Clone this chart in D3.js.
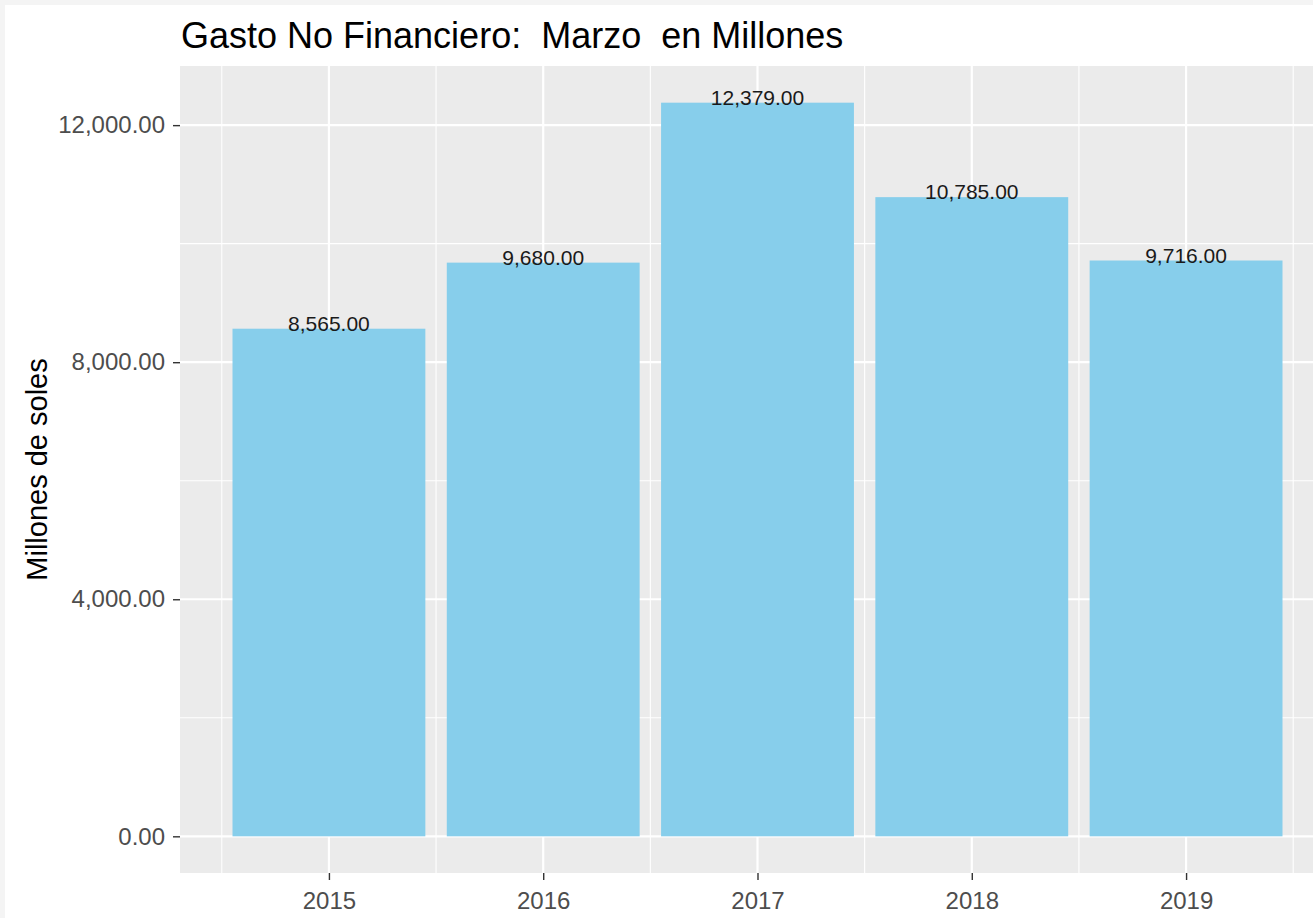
<!DOCTYPE html>
<html>
<head>
<meta charset="utf-8">
<script src="https://cdn.jsdelivr.net/npm/d3@7"></script>
<style>
  body { margin: 0; background: #f4f4f4; }
  svg { display: block; font-family: "Liberation Sans", Arial, sans-serif; }
</style>
</head>
<body>
<div id="chart"></div>
<script>
// data
var years = [2015, 2016, 2017, 2018, 2019];
var gasto = [8565, 9680, 12379, 10785, 9716];
var yTicks = [0, 4000, 8000, 12000];
var yMinor = [2000, 6000, 10000];

var W = 1313, H = 918;
// panel box (ggplot style, right side runs past the picture edge)
var margin = {top: 66, left: 180, bottom: 45};
var panelRight = 1335;
var panelBottom = H - margin.bottom;

var svg = d3.select("#chart").append("svg")
    .attr("width", W)
    .attr("height", H);

// white page inside a thin grey frame
svg.append("rect")
    .attr("x", 5).attr("y", 5)
    .attr("width", W - 5).attr("height", H - 5)
    .attr("fill", "#ffffff");

// continuous x like ggplot: bars 0.9 wide, 5% expansion
var xmin = years[0] - 0.45, xmax = years[years.length - 1] + 0.45;
var xpad = (xmax - xmin) * 0.05;
var x = d3.scaleLinear()
    .domain([xmin - xpad, xmax + xpad])
    .range([margin.left, panelRight]);

var ymax = d3.max(gasto);
var y = d3.scaleLinear()
    .domain([-ymax * 0.05, ymax * 1.05])
    .range([panelBottom, margin.top]);

var fmt = d3.format(",.2f");

// panel background
svg.append("rect")
    .attr("x", margin.left)
    .attr("y", margin.top)
    .attr("width", panelRight - margin.left)
    .attr("height", panelBottom - margin.top)
    .attr("fill", "#ebebeb");

var grid = svg.append("g");
// minor grid
grid.selectAll(".ymin").data(yMinor).enter().append("line")
    .attr("x1", margin.left).attr("x2", panelRight)
    .attr("y1", function(d) { return y(d); })
    .attr("y2", function(d) { return y(d); })
    .attr("stroke", "#fff").attr("stroke-width", 1.1);
var xMinor = years.map(function(d) { return d - 0.5; }).concat([years[years.length - 1] + 0.5]);
grid.selectAll(".xmin").data(xMinor).enter().append("line")
    .attr("y1", margin.top).attr("y2", panelBottom)
    .attr("x1", function(d) { return x(d); })
    .attr("x2", function(d) { return x(d); })
    .attr("stroke", "#fff").attr("stroke-width", 1.1);
// major grid
grid.selectAll(".ymaj").data(yTicks).enter().append("line")
    .attr("x1", margin.left).attr("x2", panelRight)
    .attr("y1", function(d) { return y(d); })
    .attr("y2", function(d) { return y(d); })
    .attr("stroke", "#fff").attr("stroke-width", 2.2);
grid.selectAll(".xmaj").data(years).enter().append("line")
    .attr("y1", margin.top).attr("y2", panelBottom)
    .attr("x1", function(d) { return x(d); })
    .attr("x2", function(d) { return x(d); })
    .attr("stroke", "#fff").attr("stroke-width", 2.2);

// bars
svg.append("g")
    .selectAll("rect")
    .data(years)
    .enter().append("rect")
    .attr("x", function(d) { return x(d - 0.45); })
    .attr("width", function(d) { return x(d + 0.45) - x(d - 0.45); })
    .attr("y", function(d, i) { return y(gasto[i]); })
    .attr("height", function(d, i) { return y(0) - y(gasto[i]); })
    .attr("fill", "#87ceeb");

// value labels
svg.append("g")
    .selectAll("text")
    .data(years)
    .enter().append("text")
    .attr("x", function(d) { return x(d); })
    .attr("y", function(d, i) { return y(gasto[i]) + 2; })
    .attr("text-anchor", "middle")
    .style("font-size", "21px")
    .attr("fill", "#1a1a1a")
    .text(function(d, i) { return fmt(gasto[i]); });

// y axis
var yAxis = svg.append("g")
    .attr("transform", "translate(" + margin.left + ",0)")
    .call(d3.axisLeft(y).tickValues(yTicks).tickFormat(fmt).tickSize(7).tickPadding(8));
yAxis.select(".domain").remove();
yAxis.selectAll("line").attr("stroke", "#333").attr("stroke-width", 1.4);
yAxis.selectAll("text")
    .style("font-size", "24px")
    .attr("fill", "#4d4d4d")
    .attr("font-family", "Liberation Sans, Arial, sans-serif");

// x axis
var xAxis = svg.append("g")
    .attr("transform", "translate(0," + panelBottom + ")")
    .call(d3.axisBottom(x).tickValues(years).tickFormat(d3.format("d")).tickSize(7).tickPadding(4));
xAxis.select(".domain").remove();
xAxis.selectAll("line").attr("stroke", "#333").attr("stroke-width", 1.4);
xAxis.selectAll("text")
    .attr("dy", null)
    .attr("y", 36)
    .style("font-size", "24px")
    .attr("fill", "#4d4d4d")
    .attr("font-family", "Liberation Sans, Arial, sans-serif");

// y axis title
svg.append("text")
    .attr("transform", "translate(47," + ((margin.top + panelBottom) / 2) + ") rotate(-90)")
    .attr("text-anchor", "middle")
    .style("font-size", "29px")
    .attr("fill", "#000")
    .text("Millones de soles");

// title
svg.append("text")
    .attr("x", margin.left + 1)
    .attr("y", 48)
    .style("font-size", "36px")
    .style("white-space", "pre")
    .attr("fill", "#000")
    .text("Gasto No Financiero:  Marzo  en Millones");
</script>
</body>
</html>
